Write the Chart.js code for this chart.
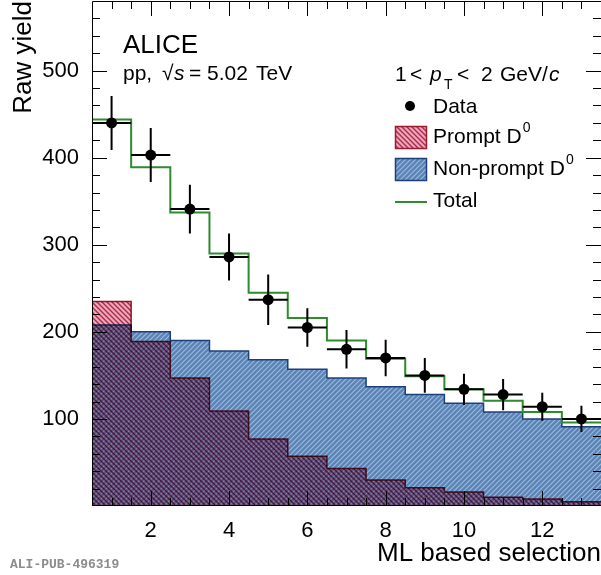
<!DOCTYPE html>
<html>
<head>
<meta charset="utf-8">
<script src="https://cdn.jsdelivr.net/npm/chart.js@4.4.1/dist/chart.umd.min.js"></script>
<style>
body { margin: 0; background: #fff; }
#wrap { width: 601px; height: 575px; position: relative; }
</style>
</head>
<body>
<div id="wrap"><canvas id="canvas1" width="601" height="575"></canvas></div>
<script>
// ML selection bins (bin centres), half width of each bin
const bins = [1, 2, 3, 4, 5, 6, 7, 8, 9, 10, 11, 12, 13];
const binHalfWidth = 0.5;

// measured raw yields and their errors
const dataYield = [440, 403, 341, 286, 237, 205, 180, 170, 150, 134, 128, 114, 100];
const dataErr = [31, 31, 28, 27, 29, 22, 22, 21, 20, 18, 18, 16, 15];

// fit templates
const promptD0 = [235, 189, 147, 109, 77, 57, 43, 30, 21, 16, 10, 8, 5];
const nonPromptD0 = [208, 200, 190, 178, 168, 157, 147, 137, 128, 118, 108, 100, 91];
const totalFit = [444, 389, 337, 290, 245, 216, 190, 169, 149, 134, 121, 108, 96];

const xTicks = [2, 4, 6, 8, 10, 12];
const yTicks = [100, 200, 300, 400, 500];

const FONT = '"Liberation Sans", Arial, Helvetica, sans-serif';

const ctx1 = document.getElementById('canvas1').getContext('2d');

function stepPoints(vals) {
    const pts = vals.map((v, i) => ({ x: bins[i] - binHalfWidth, y: v }));
    pts.push({ x: bins[bins.length - 1] + binHalfWidth, y: vals[vals.length - 1] });
    return pts;
}

function hatch(base, line, dir, lw) {
    const n = 5;
    const c = document.createElement('canvas');
    c.width = n; c.height = n;
    const g = c.getContext('2d');
    g.fillStyle = base;
    g.fillRect(0, 0, n, n);
    g.strokeStyle = line;
    g.lineWidth = lw;
    g.beginPath();
    if (dir > 0) {
        g.moveTo(-1, n + 1); g.lineTo(n + 1, -1);
        g.moveTo(-1, 1); g.lineTo(1, -1);
        g.moveTo(n - 1, n + 1); g.lineTo(n + 1, n - 1);
    } else {
        g.moveTo(-1, -1); g.lineTo(n + 1, n + 1);
        g.moveTo(n - 1, -1); g.lineTo(n + 1, 1);
        g.moveTo(-1, n - 1); g.lineTo(1, n + 1);
    }
    g.stroke();
    return ctx1.createPattern(c, 'repeat');
}

const bluePattern = hatch('#5a84b6', '#9cb9dc', 1, 1.2);
const redPattern = hatch('#eea8b8', '#aa2a50', -1, 1.4);
const blueLine = '#1e3f7a';
const redLine = '#9b1b30';
const greenLine = '#2e8b2e';

// prompt template is drawn over the non-prompt one with multiply blending
const blendPlugin = {
    id: 'blend',
    afterDatasetDraw(chart, args) {
        const label = chart.data.datasets[args.index].label;
        if (label === 'Non-prompt') chart.ctx.globalCompositeOperation = 'multiply';
        if (label === 'Prompt') chart.ctx.globalCompositeOperation = 'source-over';
    }
};

const errorBars = {
    id: 'errorBars',
    beforeDatasetDraw(chart, args) {
        if (chart.data.datasets[args.index].label !== 'Data') return;
        const { ctx, scales: { x, y } } = chart;
        ctx.save();
        ctx.strokeStyle = '#000';
        ctx.lineWidth = 2;
        ctx.beginPath();
        bins.forEach((b, i) => {
            const px = x.getPixelForValue(b);
            const py = y.getPixelForValue(dataYield[i]);
            ctx.moveTo(px, y.getPixelForValue(dataYield[i] - dataErr[i]));
            ctx.lineTo(px, y.getPixelForValue(dataYield[i] + dataErr[i]));
            ctx.moveTo(x.getPixelForValue(b - binHalfWidth), py);
            ctx.lineTo(x.getPixelForValue(b + binHalfWidth), py);
        });
        ctx.stroke();
        ctx.restore();
    }
};

const frameTicks = {
    id: 'frameTicks',
    afterDraw(chart) {
        const { ctx, chartArea: a, scales: { x, y } } = chart;
        ctx.save();
        ctx.strokeStyle = '#000';
        ctx.lineWidth = 1;
        ctx.beginPath();
        ctx.moveTo(a.left + 0.5, a.bottom - 0.5);
        ctx.lineTo(a.left + 0.5, a.top + 0.5);
        ctx.lineTo(a.right, a.top + 0.5);
        ctx.moveTo(a.left, a.bottom - 0.5);
        ctx.lineTo(a.right, a.bottom - 0.5);
        // x ticks every 0.5, long every 2
        for (let v = 1; v < 13.5; v += 0.5) {
            const px = Math.round(x.getPixelForValue(v)) + 0.5;
            const len = v % 2 === 0 ? 15 : 8;
            ctx.moveTo(px, a.bottom); ctx.lineTo(px, a.bottom - len);
            ctx.moveTo(px, a.top); ctx.lineTo(px, a.top + len);
        }
        // y ticks every 20, long every 100
        for (let v = 20; v < 580; v += 20) {
            const py = Math.round(y.getPixelForValue(v)) + 0.5;
            const len = v % 100 === 0 ? 15 : 8;
            ctx.moveTo(a.left, py); ctx.lineTo(a.left + len, py);
            ctx.moveTo(a.right, py); ctx.lineTo(a.right - len, py);
        }
        ctx.stroke();
        ctx.restore();
    }
};

function runs(ctx, list, y) {
    list.forEach(r => {
        ctx.font = (r.italic ? 'italic ' : '') + r.size + 'px ' + FONT;
        ctx.fillText(r.t, r.x, y + (r.dy || 0));
    });
}

const labelsPlugin = {
    id: 'labels',
    afterDraw(chart) {
        const ctx = chart.ctx;
        ctx.save();
        ctx.fillStyle = '#000';
        ctx.textBaseline = 'alphabetic';
        ctx.textAlign = 'left';

        ctx.font = '26px ' + FONT;
        ctx.fillText('ALICE', 123, 53);
        runs(ctx, [
            { t: 'pp,', x: 123, size: 21 },
            { t: '\u221A', x: 162, size: 21 },
            { t: 's', x: 174, size: 21, italic: true },
            { t: '=', x: 189, size: 21 },
            { t: '5.02', x: 207, size: 21 },
            { t: 'TeV', x: 256, size: 21 }
        ], 80);

        // legend header
        runs(ctx, [
            { t: '1', x: 395, size: 21 },
            { t: '<', x: 410, size: 21 },
            { t: 'p', x: 430, size: 21, italic: true },
            { t: 'T', x: 444, size: 14, dy: 8 },
            { t: '<', x: 457, size: 21 },
            { t: '2', x: 481, size: 21 },
            { t: 'GeV/', x: 500, size: 21 },
            { t: 'c', x: 549, size: 21, italic: true }
        ], 81);

        // Data
        ctx.beginPath();
        ctx.arc(410, 106, 5, 0, Math.PI * 2);
        ctx.fill();
        runs(ctx, [{ t: 'Data', x: 433, size: 21 }], 113);

        // Prompt
        ctx.fillStyle = redPattern;
        ctx.fillRect(395, 126, 32, 23);
        ctx.strokeStyle = redLine; ctx.lineWidth = 1.5;
        ctx.strokeRect(395.5, 126.5, 31, 22);
        ctx.fillStyle = '#000';
        ctx.font = '21px ' + FONT;
        let w = ctx.measureText('Prompt D').width;
        runs(ctx, [{ t: 'Prompt D', x: 433, size: 21 }, { t: '0', x: 433 + w + 1, size: 14, dy: -11 }], 143);

        // Non-prompt
        ctx.fillStyle = bluePattern;
        ctx.fillRect(395, 158, 32, 23);
        ctx.strokeStyle = blueLine;
        ctx.strokeRect(395.5, 158.5, 31, 22);
        ctx.fillStyle = '#000';
        ctx.font = '21px ' + FONT;
        w = ctx.measureText('Non-prompt D').width;
        runs(ctx, [{ t: 'Non-prompt D', x: 433, size: 21 }, { t: '0', x: 433 + w + 1, size: 14, dy: -11 }], 175);

        // Total
        ctx.strokeStyle = greenLine; ctx.lineWidth = 2;
        ctx.beginPath();
        ctx.moveTo(395, 202); ctx.lineTo(427, 202);
        ctx.stroke();
        runs(ctx, [{ t: 'Total', x: 433, size: 21 }], 207);

        // figure id
        ctx.fillStyle = '#8c8c8c';
        ctx.font = 'bold 13px "Liberation Mono", "DejaVu Sans Mono", monospace';
        ctx.fillText('ALI-PUB-496319', 10, 568);
        ctx.restore();
    }
};

const myChart1 = new Chart(ctx1, {
    type: 'line',
    data: {
        datasets: [{
            label: 'Data',
            data: bins.map((b, i) => ({ x: b, y: dataYield[i] })),
            showLine: false,
            pointRadius: 5.5,
            pointBackgroundColor: '#000',
            pointBorderColor: '#000',
            pointBorderWidth: 0
        }, {
            label: 'Total',
            data: stepPoints(totalFit),
            stepped: true,
            borderColor: greenLine,
            borderWidth: 2,
            pointRadius: 0,
            fill: false
        }, {
            label: 'Prompt',
            data: stepPoints(promptD0),
            stepped: true,
            borderColor: redLine,
            borderWidth: 1.5,
            backgroundColor: redPattern,
            pointRadius: 0,
            fill: 'origin'
        }, {
            label: 'Non-prompt',
            data: stepPoints(nonPromptD0),
            stepped: true,
            borderColor: blueLine,
            borderWidth: 1.5,
            backgroundColor: bluePattern,
            pointRadius: 0,
            fill: 'origin'
        }]
    },
    options: {
        responsive: false,
        animation: false,
        layout: { autoPadding: false, padding: { top: 1, right: 0, left: 0, bottom: 0 } },
        plugins: {
            legend: { display: false },
            tooltip: { enabled: false }
        },
        scales: {
            x: {
                type: 'linear',
                min: 0.5,
                max: 13.5,
                grid: { display: false },
                border: { display: false },
                afterBuildTicks: s => { s.ticks = xTicks.map(v => ({ value: v })); },
                afterFit: s => { s.height = 69; s.paddingLeft = 0; s.paddingRight = 0; },
                ticks: { font: { size: 22, family: FONT }, color: '#000', padding: 4, maxRotation: 0, autoSkip: false },
                title: {
                    display: true,
                    text: 'ML based selection',
                    align: 'end',
                    color: '#000',
                    font: { size: 26, family: FONT },
                    padding: { top: 0, bottom: 6 }
                }
            },
            y: {
                min: 0,
                max: 580,
                grid: { display: false },
                border: { display: false },
                afterBuildTicks: s => { s.ticks = yTicks.map(v => ({ value: v })); },
                afterFit: s => { s.width = 92; s.paddingTop = 0; s.paddingBottom = 0; },
                ticks: { font: { size: 22, family: FONT }, color: '#000', padding: 5 },
                title: {
                    display: true,
                    text: 'Raw yield',
                    align: 'end',
                    color: '#000',
                    font: { size: 26, family: FONT },
                    padding: { top: 8, bottom: 0 }
                }
            }
        }
    },
    plugins: [blendPlugin, errorBars, frameTicks, labelsPlugin]
});
</script>
</body>
</html>
